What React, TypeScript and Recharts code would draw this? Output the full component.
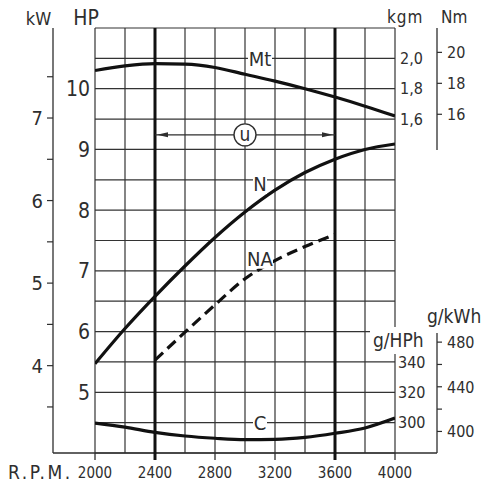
import React from 'react';
import {
  LineChart,
  Line,
  XAxis,
  YAxis,
  CartesianGrid,
  ReferenceLine,
  ReferenceDot,
  Customized,
} from 'recharts';

// engine speed (R.P.M.) and the curves
const rpm = [2000, 2200, 2400, 2600, 2800, 3000, 3200, 3400, 3600, 3800, 4000];
const torqueKgm = [1.92, 1.95, 1.965, 1.962, 1.94, 1.895, 1.85, 1.8, 1.745, 1.685, 1.62];
const powerHp = [5.47, 6.05, 6.58, 7.08, 7.55, 7.97, 8.33, 8.62, 8.84, 9.0, 9.09];
const powerNaHp = [null, null, 5.53, 5.99, 6.44, 6.87, 7.17, 7.4, 7.6, null, null];
const consumptionGHph = [299.7, 297, 293.6, 291.2, 289.7, 288.8, 289, 290.3, 293, 296.5, 303];

// useful range (u) between the two heavy lines
const usefulRange = [2400, 3600];
const usefulLevelHp = 9.24;

// ticks
const rpmTicks = [2000, 2200, 2400, 2600, 2800, 3000, 3200, 3400, 3600, 3800, 4000];
const rpmLabels = [2000, 2400, 2800, 3200, 3600, 4000];
const hpTicks = [4, 4.5, 5, 5.5, 6, 6.5, 7, 7.5, 8, 8.5, 9, 9.5, 10, 10.5, 11];
const hpLabels = [5, 6, 7, 8, 9, 10];
const kwTicks = [3.5, 4, 4.5, 5, 5.5, 6, 6.5, 7, 7.5];
const kwLabels = [4, 5, 6, 7];
const kgmTicks = [1.6, 1.8, 2.0];
const nmTicks = [16, 18, 20];
const gHphTicks = [300, 320, 340];
const gKwhTicks = [400, 420, 440, 460, 480];
const gKwhLabels = [400, 440, 480];

// unit conversions (metric HP)
const KW_PER_HP = 0.7355;
const NM_PER_KGM = 9.80665;
const GKWH_PER_GHPH = 1.3596;

const HP_DOMAIN = [4, 11];
const KGM_DOMAIN = [-0.6, 2.2];
const GHPH_DOMAIN = [280, 560];

const FONT = "'Liberation Sans Narrow', 'DejaVu Sans Condensed', 'Liberation Sans', Arial, sans-serif";
const INK = '#2e2e2e';
const CURVE = '#111';

const W = 487;
const H = 484;
const PLOT_TOP = 28;
const PLOT_BOTTOM = 453;
const AXIS_L = 53;
const AXIS_R = 437;

if (typeof document !== 'undefined') document.body.style.margin = '0';

const data = rpm.map((r, i) => ({
  rpm: r,
  mt: torqueKgm[i],
  n: powerHp[i],
  na: powerNaHp[i],
  c: consumptionGHph[i],
}));

const uLine = usefulRange.map((r) => ({ rpm: r, u: usefulLevelHp }));

const txt = (size: number) => ({ fontFamily: FONT, fontSize: size, fill: INK });

const RpmTick = ({ x, y, payload }: any) => {
  if (!rpmLabels.includes(payload.value)) return <g />;
  const heavy = usefulRange.includes(payload.value);
  return (
    <g>
      <line x1={x} x2={x} y1={y} y2={y + 7} stroke={heavy ? CURVE : INK} strokeWidth={heavy ? 3 : 1.3} />
      <text x={x} y={y + 19.5} dy="0.36em" textAnchor="middle" {...txt(15)}>
        {payload.value}
      </text>
    </g>
  );
};

const HpTick = ({ y, payload }: any) =>
  hpLabels.includes(payload.value) ? (
    <text x={90} y={y} dy="0.36em" textAnchor="end" {...txt(21)}>
      {payload.value}
    </text>
  ) : (
    <g />
  );

const KwTick = ({ y, payload }: any) => (
  <g>
    <line x1={AXIS_L - 6} x2={AXIS_L} y1={y} y2={y} stroke={INK} strokeWidth={1.2} />
    {kwLabels.includes(payload.value) && (
      <text x={43} y={y} dy="0.36em" textAnchor="end" {...txt(20)}>
        {payload.value}
      </text>
    )}
  </g>
);

const KgmTick = ({ y, payload }: any) => (
  <text x={400} y={y} dy="0.36em" {...txt(16)}>
    {payload.value.toFixed(1).replace('.', ',')}
  </text>
);

const NmTick = ({ y, payload }: any) => (
  <g>
    <line x1={AXIS_R} x2={AXIS_R + 5} y1={y} y2={y} stroke={INK} strokeWidth={1.2} />
    <text x={447} y={y} dy="0.36em" {...txt(16)}>
      {payload.value}
    </text>
  </g>
);

const GHphTick = ({ y, payload }: any) => (
  <text x={398} y={y} dy="0.36em" {...txt(16)}>
    {payload.value}
  </text>
);

const GKwhTick = ({ y, payload }: any) => (
  <g>
    <line x1={AXIS_R} x2={AXIS_R + 5} y1={y} y2={y} stroke={INK} strokeWidth={1.2} />
    {gKwhLabels.includes(payload.value) && (
      <text x={447} y={y} dy="0.36em" {...txt(16)}>
        {payload.value}
      </text>
    )}
  </g>
);

// curve name sitting on a white patch
const tag = (label: string, w: number) => (p: any) => (
  <g>
    <rect x={p.cx - w / 2} y={p.cy - 10} width={w} height={20} fill="#fff" />
    <text x={p.cx} y={p.cy} dy="0.36em" textAnchor="middle" {...txt(20)}>
      {label}
    </text>
  </g>
);

const UCircle = (p: any) => (
  <g>
    <circle cx={p.cx} cy={p.cy} r={11} fill="#fff" stroke={INK} strokeWidth={1.4} />
    <text x={p.cx} y={p.cy} dy="0.34em" textAnchor="middle" {...txt(19)}>
      u
    </text>
  </g>
);

const Arrow = (p: any) => {
  const dir = p.index === 0 ? 1 : -1;
  const tip = p.cx + dir * 2;
  const base = tip + dir * 11;
  return (
    <path
      key={p.index}
      d={`M${tip},${p.cy} L${base},${p.cy - 2.5} L${base},${p.cy + 2.5} Z`}
      fill={INK}
    />
  );
};

const Frame = () => (
  <g>
    <line x1={AXIS_L} x2={AXIS_L} y1={PLOT_TOP} y2={PLOT_BOTTOM} stroke={INK} strokeWidth={1.3} />
    <line x1={AXIS_L} x2={AXIS_R} y1={PLOT_BOTTOM} y2={PLOT_BOTTOM} stroke={INK} strokeWidth={1.3} />
    <line x1={AXIS_R} x2={AXIS_R} y1={PLOT_TOP} y2={150} stroke={INK} strokeWidth={1.3} />
    <line x1={AXIS_R} x2={AXIS_R} y1={333} y2={PLOT_BOTTOM} stroke={INK} strokeWidth={1.3} />
    <text x={38.5} y={25} textAnchor="middle" {...txt(18)}>kW</text>
    <text x={86} y={25} textAnchor="middle" {...txt(21)}>HP</text>
    <text x={387} y={23} letterSpacing={1} {...txt(17)}>kgm</text>
    <text x={441} y={23} {...txt(17)}>Nm</text>
    <text x={427} y={323} {...txt(19)}>g/kWh</text>
    <rect x={370} y={327} width={63} height={27} fill="#fff" />
    <text x={373} y={347} {...txt(19)}>g/HPh</text>
    <text x={8} y={479} letterSpacing={2.5} {...txt(19)}>R.P.M.</text>
  </g>
);

export default function App() {
  return (
    <div style={{ width: W, height: H }}>
      <LineChart
        width={W}
        height={H}
        data={data}
        margin={{ top: PLOT_TOP, right: 0, bottom: 6, left: 13 }}
      >
        <CartesianGrid yAxisId="hp" stroke="#333" strokeWidth={1.2} />
        <XAxis
          dataKey="rpm"
          type="number"
          domain={[2000, 4000]}
          ticks={rpmTicks}
          interval={0}
          height={25}
          tickSize={0}
          tickMargin={0}
          axisLine={false}
          tickLine={false}
          tick={<RpmTick />}
          allowDataOverflow
        />
        <YAxis yAxisId="hp" type="number" domain={HP_DOMAIN} ticks={hpTicks} interval={0} width={42}
          tickSize={0} tickMargin={0} axisLine={false} tickLine={false} tick={<HpTick />} allowDataOverflow />
        <YAxis yAxisId="kw" type="number" domain={[HP_DOMAIN[0] * KW_PER_HP, HP_DOMAIN[1] * KW_PER_HP]}
          ticks={kwTicks} interval={0} width={40} tickSize={0} tickMargin={0} axisLine={false}
          tickLine={false} tick={<KwTick />} allowDataOverflow />
        <YAxis yAxisId="kgm" orientation="right" type="number" domain={KGM_DOMAIN} ticks={kgmTicks}
          interval={0} width={40} tickSize={0} tickMargin={0} axisLine={false} tickLine={false}
          tick={<KgmTick />} allowDataOverflow />
        <YAxis yAxisId="nm" orientation="right" type="number"
          domain={[KGM_DOMAIN[0] * NM_PER_KGM, KGM_DOMAIN[1] * NM_PER_KGM]} ticks={nmTicks} interval={0}
          width={20} tickSize={0} tickMargin={0} axisLine={false} tickLine={false} tick={<NmTick />}
          allowDataOverflow />
        <YAxis yAxisId="ghph" orientation="right" type="number" domain={GHPH_DOMAIN} ticks={gHphTicks}
          interval={0} width={16} tickSize={0} tickMargin={0} axisLine={false} tickLine={false}
          tick={<GHphTick />} allowDataOverflow />
        <YAxis yAxisId="gkwh" orientation="right" type="number"
          domain={[GHPH_DOMAIN[0] * GKWH_PER_GHPH, GHPH_DOMAIN[1] * GKWH_PER_GHPH]} ticks={gKwhTicks}
          interval={0} width={16} tickSize={0} tickMargin={0} axisLine={false} tickLine={false}
          tick={<GKwhTick />} allowDataOverflow />

        <ReferenceLine yAxisId="hp" x={usefulRange[0]} stroke={CURVE} strokeWidth={3} />
        <ReferenceLine yAxisId="hp" x={usefulRange[1]} stroke={CURVE} strokeWidth={3} />

        <Line yAxisId="hp" data={uLine} dataKey="u" stroke={INK} strokeWidth={1.2} dot={<Arrow />}
          activeDot={false} isAnimationActive={false} />
        <Line yAxisId="kgm" type="monotone" dataKey="mt" stroke={CURVE} strokeWidth={3.2} dot={false}
          activeDot={false} isAnimationActive={false} />
        <Line yAxisId="hp" type="monotone" dataKey="n" stroke={CURVE} strokeWidth={3.2} dot={false}
          activeDot={false} isAnimationActive={false} />
        <Line yAxisId="hp" type="monotone" dataKey="na" stroke={CURVE} strokeWidth={3.2}
          strokeDasharray="11 6" dot={false} activeDot={false} isAnimationActive={false} />
        <Line yAxisId="ghph" type="monotone" dataKey="c" stroke={CURVE} strokeWidth={3.2} dot={false}
          activeDot={false} isAnimationActive={false} />

        <ReferenceDot yAxisId="hp" x={3000} y={usefulLevelHp} r={11} shape={UCircle} />
        <ReferenceDot yAxisId="kgm" x={3100} y={2.0} r={10} shape={tag('Mt', 24)} />
        <ReferenceDot yAxisId="hp" x={3100} y={8.43} r={10} shape={tag('N', 14)} />
        <ReferenceDot yAxisId="hp" x={3100} y={7.2} r={10} shape={tag('NA', 26)} />
        <ReferenceDot yAxisId="ghph" x={3100} y={300} r={10} shape={tag('C', 14)} />

        <Customized component={<Frame />} />
      </LineChart>
    </div>
  );
}
